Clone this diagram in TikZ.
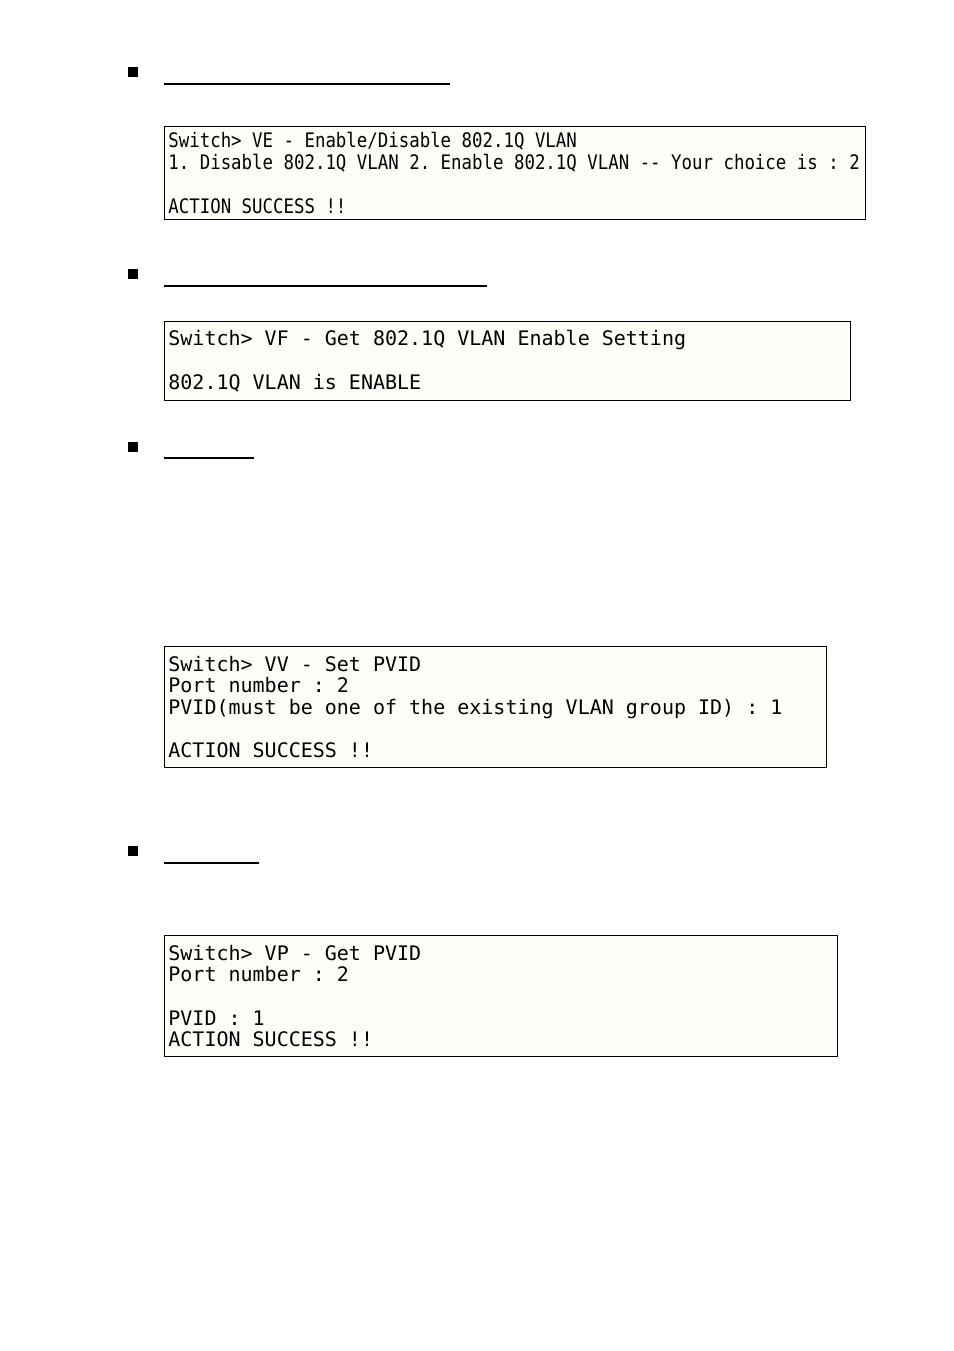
\documentclass[tikz,border=0pt]{standalone}
\usepackage{fontspec}
\usepackage{tikz}
\usetikzlibrary{positioning}
\newfontfamily\termfont{DejaVu Sans Mono}[Ligatures=NoCommon]
\newfontfamily\termnarrowfont{DejaVu Sans Mono}[Ligatures=NoCommon, FakeStretch=0.87]
\newcommand{\termsize}{\fontsize{10pt}{10.85pt}\selectfont\frenchspacing}
\definecolor{termbg}{RGB}{252,255,247}
\tikzstyle{termbox} = [% terminal screen frame
  rectangle,
  anchor=north west,
  draw=black,
  line width=0.5pt,
  fill=termbg,
  inner sep=0pt
  ]
\tikzstyle{termtext} = [% terminal screen lines
  align=left,
  inner sep=0pt,
  font=\termfont\termsize
  ]
\tikzstyle{bullet} = [% square bullet
  rectangle,
  fill=black,
  minimum size=5pt,
  inner sep=0pt
  ]
\tikzstyle{rule} = [% heading underline
  line width=1pt
  ]

\begin{document}
\begin{tikzpicture}[x=0.5pt, y=-0.5pt]
\useasboundingbox (0,0) rectangle (954,1351);

%%% Headings
\node[bullet] (bulletve) at (132.5,72) {};
\draw[rule] (164,84) -- (450,84);
\node[bullet] (bulletvf) at (132.5,273.5) {};
\draw[rule] (164,285.5) -- (487,285.5);
\node[bullet] (bulletvv) at (132.5,446.5) {};
\draw[rule] (164,458) -- (254,458);
\node[bullet] (bulletvp) at (132.5,851) {};
\draw[rule] (164,863) -- (259,863);

%%% Screens
\node[termbox, minimum width=350.5pt, minimum height=46.5pt] (vebox) at (164,126) {};
\node[termtext, font=\termnarrowfont\termsize, right=2pt of vebox.west] (vetext)
  {Switch> VE - Enable/Disable 802.1Q VLAN\\
   1. Disable 802.1Q VLAN 2. Enable 802.1Q VLAN -{}- Your choice is : 2\\[10.85pt]
   ACTION SUCCESS !!};

\node[termbox, minimum width=343pt, minimum height=39.5pt] (vfbox) at (164,321) {};
\node[termtext, right=2pt of vfbox.west] (vftext)
  {Switch> VF - Get 802.1Q VLAN Enable Setting\\[10.85pt]
   802.1Q VLAN is ENABLE};

\node[termbox, minimum width=331pt, minimum height=60.5pt] (vvbox) at (164,646) {};
\node[termtext, right=2pt of vvbox.west] (vvtext)
  {Switch> VV - Set PVID\\
   Port number : 2\\
   PVID(must be one of the existing VLAN group ID) : 1\\[10.85pt]
   ACTION SUCCESS !!};

\node[termbox, minimum width=336.5pt, minimum height=60.5pt] (vpbox) at (164,935) {};
\node[termtext, right=2pt of vpbox.west] (vptext)
  {Switch> VP - Get PVID\\
   Port number : 2\\[10.85pt]
   PVID : 1\\
   ACTION SUCCESS !!};

\end{tikzpicture}
\end{document}
